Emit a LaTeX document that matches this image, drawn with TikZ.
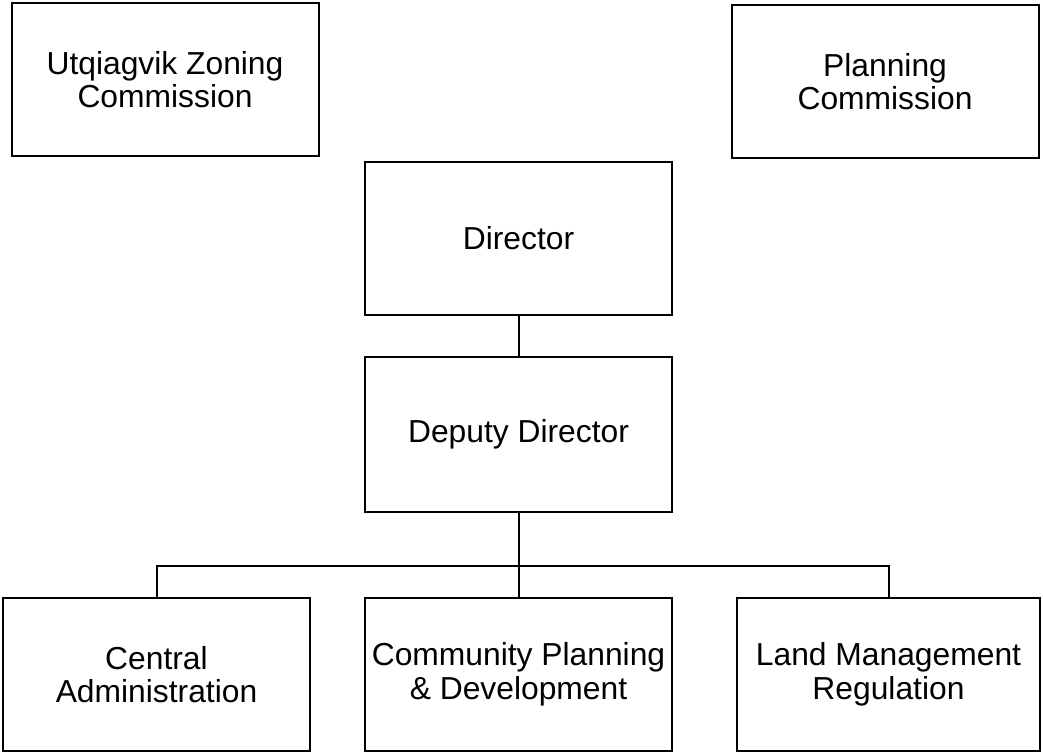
\documentclass[tikz,border=0pt]{standalone}
\usepackage{fontspec}
\setmainfont{Liberation Sans}
\begin{document}
\begin{tikzpicture}[x=1pt,y=-1pt,
  box/.style={draw=black,line width=2pt,fill=white,minimum width=307pt,minimum height=153pt,inner sep=0pt,align=center,font=\fontsize{31.8}{33.5}\selectfont},
  conn/.style={draw=black,line width=2pt}]
\useasboundingbox (0,0) rectangle (1043,752);
\node[box] (uzc) at (165,79.5) {Utqiagvik Zoning\\Commission};
\node[box] (pc) at (885,81.5) {Planning\\Commission};
\node[box] (dir) at (518.5,238.5) {Director};
\node[box,minimum height=155pt] (dep) at (518.5,434.5) {Deputy Director};
\node[box] (ca) at (156.5,674.5) {Central\\Administration};
\node[box] (cpd) at (518.5,674.5) {Community Planning\\\& Development};
\node[box,minimum width=303pt] (lmr) at (888.5,674.5) {Land Management\\Regulation};
\coordinate (bus) at (518.5,566);
\draw[conn] (dir.south) -- (dep.north);
\draw[conn] (dep.south) -- (bus);
\draw[conn] (ca.north) -- (ca.north |- bus) -- (lmr.north |- bus) -- (lmr.north);
\draw[conn] (bus) -- (cpd.north);
\end{tikzpicture}
\end{document}
